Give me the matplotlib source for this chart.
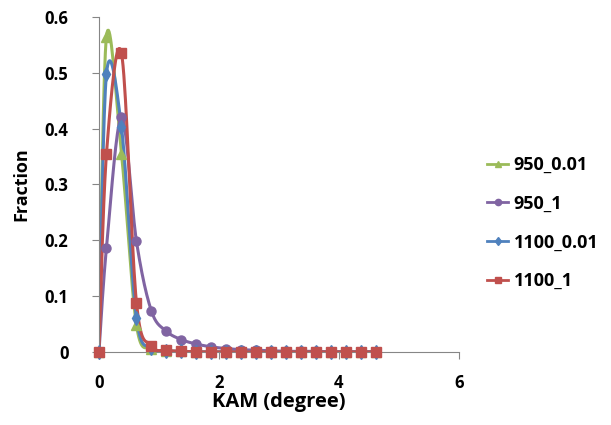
import numpy as np
import matplotlib
matplotlib.use("Agg")
import matplotlib.pyplot as plt
from matplotlib.lines import Line2D

plt.rcParams['font.family'] = ['Open Sans', 'DejaVu Sans']
plt.rcParams['font.weight'] = 'bold'

kam = [0, 0.125, 0.375, 0.625, 0.875, 1.125, 1.375, 1.625, 1.875, 2.125,
       2.375, 2.625, 2.875, 3.125, 3.375, 3.625, 3.875, 4.125, 4.375, 4.625]

f_950_001 = [0, 0.565, 0.355, 0.048, 0.006, 0.002, 0.001, 0, 0, 0,
             0, 0, 0, 0, 0, 0, 0, 0, 0, 0]
f_950_1 = [0, 0.187, 0.42, 0.198, 0.073, 0.037, 0.022, 0.014, 0.009, 0.006,
           0.004, 0.003, 0.002, 0.001, 0.001, 0.001, 0, 0, 0, 0]
f_1100_001 = [0, 0.498, 0.403, 0.061, 0.007, 0.002, 0.001, 0, 0, 0,
              0, 0, 0, 0, 0, 0, 0, 0, 0, 0]
f_1100_1 = [0, 0.355, 0.535, 0.088, 0.011, 0.003, 0.001, 0, 0, 0,
            0, 0, 0, 0, 0, 0, 0, 0, 0, 0]

series = [
    ("950_0.01", f_950_001, "#9BBB59", "^"),
    ("950_1", f_950_1, "#8064A2", "o"),
    ("1100_0.01", f_1100_001, "#4F81BD", "d"),
    ("1100_1", f_1100_1, "#C0504D", "s"),
]


def smooth(x, y, n=20):
    # excel-style smoothed line: cubic bezier through the points
    x = np.asarray(x, float)
    y = np.asarray(y, float)
    px = np.concatenate([[x[0]], x, [x[-1]]])
    py = np.concatenate([[y[0]], y, [y[-1]]])
    t = np.linspace(0, 1, n)
    xs, ys = [], []
    for i in range(len(x) - 1):
        p0 = np.array([px[i + 1], py[i + 1]])
        p3 = np.array([px[i + 2], py[i + 2]])
        c1 = p0 + (p3 - np.array([px[i], py[i]])) / 6
        c2 = p3 - (np.array([px[i + 3], py[i + 3]]) - p0) / 6
        b = ((1 - t) ** 3)[:, None] * p0 + (3 * (1 - t) ** 2 * t)[:, None] * c1 \
            + (3 * (1 - t) * t ** 2)[:, None] * c2 + (t ** 3)[:, None] * p3
        xs.extend(b[:, 0])
        ys.extend(b[:, 1])
    return xs, ys


fig = plt.figure(figsize=(6.11, 4.25), dpi=100)
ax = fig.add_axes([0.162, 0.172, 0.589, 0.788])

handles = []
for name, vals, col, mk in series:
    sx, sy = smooth(kam, vals)
    ax.plot(sx, sy, color=col, lw=2.2, zorder=2)
    ax.plot(kam, vals, ls='none', marker=mk, color=col, ms=6.5 if mk != 'd' else 7,
            zorder=3, clip_on=False)
    handles.append(Line2D([], [], color=col, lw=2, marker=mk, ms=4.5))

ax.set_xlim(0, 6)
ax.set_ylim(0, 0.6)
ax.set_xticks([0, 2, 4, 6])
ax.set_yticks([0, 0.1, 0.2, 0.3, 0.4, 0.5, 0.6])
ax.set_yticklabels(['0', '0.1', '0.2', '0.3', '0.4', '0.5', '0.6'])
for s in ['top', 'right']:
    ax.spines[s].set_visible(False)
for s in ['left', 'bottom']:
    ax.spines[s].set_color('#868686')
ax.tick_params(axis='both', colors='#868686', length=5, labelsize=12, labelcolor='black')
ax.tick_params(axis='x', pad=11)
ax.tick_params(axis='y', pad=17)
ax.set_xlabel('KAM (degree)', fontsize=14.5, fontweight='bold', labelpad=0)
ax.set_ylabel('Fraction', fontsize=13, fontweight='bold', labelpad=10)

fig.legend(handles, [s[0] for s in series], loc='center left',
           bbox_to_anchor=(0.77, 0.475), frameon=False, fontsize=13,
           handlelength=1.2, labelspacing=1.15, handletextpad=0.3)

fig.savefig('out.png', dpi=100)
